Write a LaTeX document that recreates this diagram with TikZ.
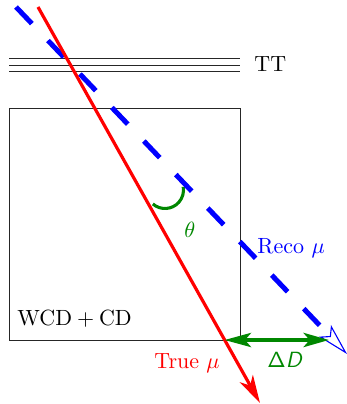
\documentclass[tikz,border=0pt]{standalone}
\usetikzlibrary{arrows.meta}
\definecolor{dgreen}{RGB}{0,135,0}
\begin{document}
\begin{tikzpicture}[x=0.4545pt,y=-0.4545pt,
  lbl/.style={inner sep=0pt, anchor=base west},
  detline/.style={line width=0.45pt, black!85},
  recotrack/.style={blue, line width=2.27pt, dash pattern=on 10.45pt off 10.6pt,
    -{Stealth[open, length=14.5pt, width=7.6pt, inset=3.2pt, line width=0.5pt]}},
  truetrack/.style={red, line width=1.45pt,
    -{Stealth[length=12.7pt, width=6.8pt, inset=3.6pt]}},
  deltaarrow/.style={dgreen, line width=1.8pt,
    {Stealth[length=12pt, width=6.4pt, inset=2.7pt]}-{Stealth[length=11.5pt, width=6.4pt, inset=2.7pt]}},
  anglearc/.style={dgreen, line width=1.4pt}]
\useasboundingbox (0,0) rectangle (346,404);
% coordinates
\coordinate (boxnw) at (9,108);
\coordinate (boxse) at (240,340);
\coordinate (tta) at (9,58);   \coordinate (ttae) at (240,58);
\coordinate (ttb) at (9,65);   \coordinate (ttbe) at (240,65);
\coordinate (ttc) at (9,71.7); \coordinate (ttce) at (240,71.7);
\coordinate (rs) at (38,7);    \coordinate (re) at (260,403);
\coordinate (bs) at (16,7);    \coordinate (be) at (347,354);
\coordinate (gl) at (224.5,340); \coordinate (gr) at (329,340);
\coordinate (arcc) at (165,190);
% detectors
\draw[detline] (tta) -- (ttae);
\draw[detline] (ttb) -- (ttbe);
\draw[detline] (ttc) -- (ttce);
\draw[detline] (boxnw) rectangle (boxse);
% angle arc
\draw[anglearc] (arcc) ++(131:18.5) arc[start angle=131, end angle=-10, radius=18.5];
% tracks
\draw[recotrack] (bs) -- (be);
\draw[truetrack] (rs) -- (re);
\draw[deltaarrow] (gl) -- (gr);
% labels
\node[lbl] (ttl) at (254,71.5) {TT};
\node[lbl] (wcd) at (17,325) {WCD${}+{}$CD};
\node[lbl, text=blue] (reco) at (257,253) {Reco $\mu$};
\node[lbl, text=red] (truel) at (154,368) {True $\mu$};
\node[lbl, text=dgreen] (dd) at (267,367) {$\mathsf{\Delta}$\textsf{\textit{D}}};
\node[lbl, text=dgreen] (th) at (184,237.7) {$\theta$};
\end{tikzpicture}
\end{document}
